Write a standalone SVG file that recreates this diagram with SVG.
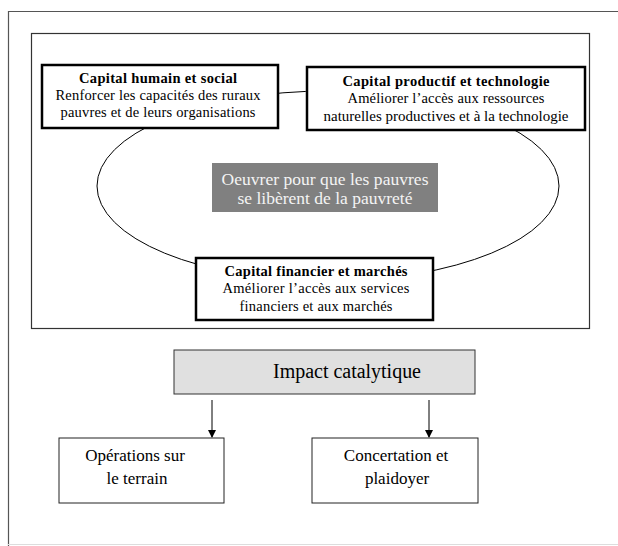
<svg xmlns="http://www.w3.org/2000/svg" width="618" height="546" viewBox="0 0 618 546">
<style>
text{font-family:"Liberation Serif","Times New Roman",serif;text-anchor:middle;fill:#000}
.t13{font-size:14.5px}
.b{font-weight:bold}
.cap{fill:#fff;stroke:#000;stroke-width:2.5}
.box{fill:#fff;stroke:#222;stroke-width:1}
.ln{fill:none;stroke:#000;stroke-width:1}
.w{fill:#f4f4f4;font-size:17.5px}
</style>
<defs>
<marker id="ah" markerWidth="8" markerHeight="8" refX="7" refY="4" orient="auto" markerUnits="userSpaceOnUse">
<path d="M0,0 L8,4 L0,8 z" fill="#000"/>
</marker>
</defs>
<g id="frames">
<path d="M618,11.5 H8.5 V546" fill="none" stroke="#555" stroke-width="1.2"/>
<line x1="8" y1="544.5" x2="618" y2="544.5" stroke="#ddd" stroke-width="1"/>
<rect x="31.5" y="33.5" width="558" height="295" fill="none" stroke="#333" stroke-width="1.2"/>
</g>
<g id="connectors">
<ellipse cx="328" cy="186" rx="231" ry="95" class="ln"/>
<line x1="212" y1="400" x2="212" y2="437" class="ln" marker-end="url(#ah)"/>
<line x1="429" y1="400" x2="429" y2="437" class="ln" marker-end="url(#ah)"/>
</g>
<g id="humain">
<rect x="42" y="65" width="236" height="63" class="cap"/>
<text x="158" y="83" class="t13 b" textLength="158">Capital  humain et social</text>
<text x="158" y="100" class="t13" textLength="205">Renforcer les capacités des ruraux</text>
<text x="158" y="117" class="t13" textLength="195">pauvres et de leurs organisations</text>
</g>
<g id="productif">
<rect x="307" y="67" width="278" height="63" class="cap"/>
<text x="446" y="86" class="t13 b" textLength="207">Capital  productif et technologie</text>
<text x="446" y="103" class="t13" textLength="197">Améliorer l’accès aux ressources</text>
<text x="446" y="121" class="t13" textLength="245" lengthAdjust="spacingAndGlyphs">naturelles productives et à la technologie</text>
</g>
<g id="centre">
<rect x="212" y="163" width="226" height="49" fill="#808080"/>
<text x="325" y="185" class="w" textLength="207">Oeuvrer pour que les pauvres</text>
<text x="325" y="204" class="w" textLength="175">se libèrent de la pauvreté</text>
</g>
<g id="financier">
<rect x="196" y="258" width="237" height="62" class="cap"/>
<text x="316" y="276" class="t13 b" textLength="183">Capital financier et marchés</text>
<text x="316" y="293" class="t13" textLength="187">Améliorer l’accès aux services</text>
<text x="316" y="311" class="t13" textLength="153">financiers et aux marchés</text>
</g>
<g id="impact">
<rect x="174" y="350" width="301" height="44" fill="#e0e0e0" stroke="#333" stroke-width="1"/>
<text x="347" y="378" font-size="20" textLength="148">Impact catalytique</text>
</g>
<g id="operations">
<rect x="59" y="438" width="165" height="65" class="box"/>
<text x="135" y="461" font-size="17">Opérations sur</text>
<text x="137" y="484" font-size="17">le terrain</text>
</g>
<g id="concertation">
<rect x="312" y="438" width="166" height="65" class="box"/>
<text x="396" y="461" font-size="17">Concertation et</text>
<text x="397" y="484" font-size="17">plaidoyer</text>
</g>
</svg>
